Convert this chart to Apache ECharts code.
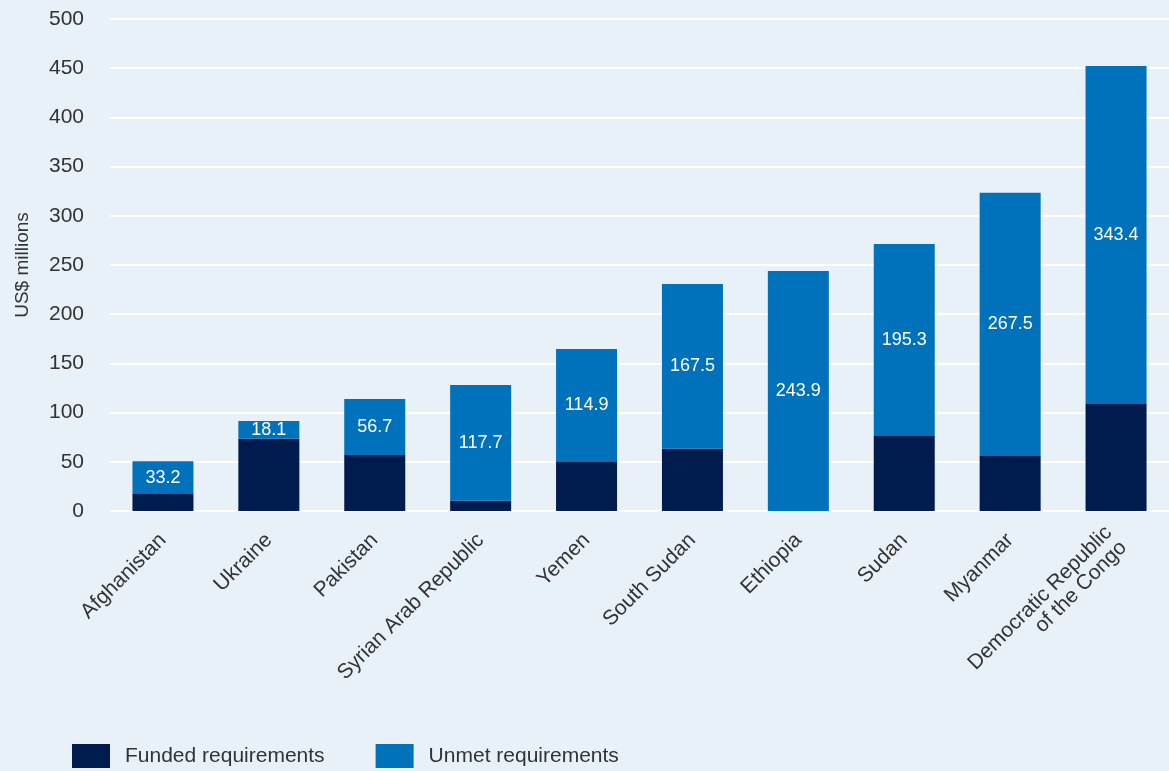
<!DOCTYPE html>
<html>
<head>
<meta charset="utf-8">
<script src="https://cdn.jsdelivr.net/npm/echarts@6/dist/echarts.min.js"></script>
<style>
html,body{margin:0;padding:0;background:#e8f0f8;}
#chart{width:1169px;height:771px;}
</style>
</head>
<body>
<div id="chart"></div>
<script>
const categories = ['Afghanistan','Ukraine','Pakistan','Syrian Arab Republic','Yemen','South Sudan','Ethiopia','Sudan','Myanmar','Democratic Republic\nof the Congo'];
const funded = [17.4, 73.3, 57.0, 10.3, 49.8, 63.2, 0, 76.1, 55.8, 108.8];
const unmet = [33.2, 18.1, 56.7, 117.7, 114.9, 167.5, 243.9, 195.3, 267.5, 343.4];
const yTicks = {min: 0, max: 500, interval: 50};

const FONT = '"Liberation Sans", Arial, sans-serif';
const chart = echarts.init(document.getElementById('chart'));
chart.setOption({
  backgroundColor: '#e8f0f8',
  animation: false,
  textStyle: {fontFamily: FONT},
  grid: {left: 110, right: 0, top: 19, bottom: 260, containLabel: false},
  legend: {
    left: 72, top: 744, padding: 0,
    itemWidth: 38, itemHeight: 24, itemGap: 51,
    icon: 'rect',
    textStyle: {fontSize: 21, color: '#333', fontFamily: FONT, padding: [0,0,0,10]},
    data: ['Funded requirements','Unmet requirements']
  },
  xAxis: {
    type: 'category',
    data: categories,
    axisLine: {show: false},
    axisTick: {show: false},
    axisLabel: {rotate: 45, fontSize: 21, color: '#333', margin: 26, interval: 0, fontFamily: FONT, padding: [0, 0, 0, 0]}
  },
  yAxis: {
    type: 'value',
    min: yTicks.min, max: yTicks.max, interval: yTicks.interval,
    name: 'US$ millions',
    nameLocation: 'middle',
    nameGap: 78,
    nameTextStyle: {fontSize: 19, color: '#333', fontFamily: FONT},
    axisLine: {show: false},
    axisTick: {show: false},
    axisLabel: {fontSize: 21, color: '#333', margin: 26, fontFamily: FONT},
    splitLine: {lineStyle: {color: '#ffffff', width: 2}}
  },
  series: [
    {
      name: 'Funded requirements', type: 'bar', stack: 'total',
      data: funded, barWidth: '57.6%',
      itemStyle: {color: '#001b4e'}
    },
    {
      name: 'Unmet requirements', type: 'bar', stack: 'total',
      data: unmet, barWidth: '57.6%',
      itemStyle: {color: '#0071bb'},
      label: {show: true, position: 'inside', color: '#ffffff', fontSize: 18, fontFamily: FONT,
        formatter: p => p.value.toFixed(1)}
    }
  ]
});
</script>
</body>
</html>
